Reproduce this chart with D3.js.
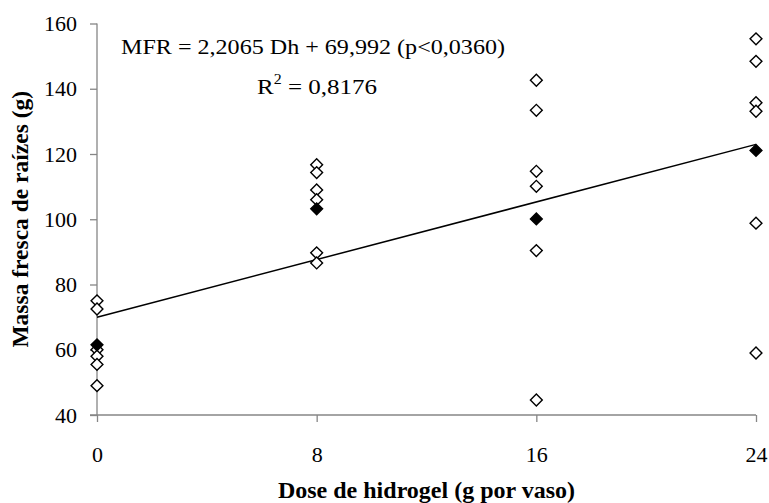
<!DOCTYPE html>
<html>
<head>
<meta charset="utf-8">
<script src="https://cdn.jsdelivr.net/npm/d3@7"></script>
<style>
  body { margin: 0; background: #fff; }
  text { font-family: "Liberation Serif", "Times New Roman", serif; }
</style>
</head>
<body>
<div id="chart"></div>
<script>
// doses (g por vaso)
const doses = [0, 8, 16, 24];
// individual observations per dose (open diamonds)
const obs0 = [75, 72.5, 60, 58, 55.5, 49];
const obs8 = [116.7, 114.3, 109, 106, 89.7, 86.6];
const obs16 = [142.6, 133.4, 114.7, 110.1, 90.4, 44.6];
const obs24 = [155.3, 148.4, 135.7, 133.1, 98.8, 59];
// means per dose (filled diamonds)
const means = [61.5, 103.2, 100.1, 121.1];
// regression MFR = 2,2065 Dh + 69,992
const slope = 2.2065, intercept = 69.992;
const yTicks = [40, 60, 80, 100, 120, 140, 160];

const W = 769, H = 503;
const margin = {top: 23.5, right: 13, bottom: 88, left: 97};
const width = W - margin.left - margin.right;
const height = H - margin.top - margin.bottom;

const svg = d3.select('#chart').append('svg')
  .attr('width', W)
  .attr('height', H);

const g = svg.append('g')
  .attr('transform', `translate(${margin.left}, ${margin.top})`);

const x = d3.scaleLinear().domain([0, 24]).range([0, width]);
const y = d3.scaleLinear().domain([40, 160]).range([height, 0]);

const axisColor = '#868686';

// y axis
const yAxis = d3.axisLeft(y).tickValues(yTicks).tickSize(7).tickPadding(13);
const gy = g.append('g').call(yAxis);
gy.select('.domain').attr('d', `M0,0V${height}`);

// x axis
const xAxis = d3.axisBottom(x).tickValues(doses).tickSize(7).tickPadding(24);
const gx = g.append('g').attr('transform', `translate(0, ${height})`).call(xAxis);
gx.select('.domain').attr('d', `M-7,0H${width}`);

[gx, gy].forEach(a => {
  a.selectAll('path, line').attr('stroke', axisColor).attr('stroke-width', 1.3);
  a.selectAll('text')
    .attr('fill', '#000')
    .style('font-size', '22px')
    .style('font-family', '"Liberation Serif", serif');
});

// regression line
g.append('path')
  .datum([0, 24])
  .attr('d', d3.line().x(d => x(d)).y(d => y(intercept + slope * d)))
  .attr('fill', 'none')
  .attr('stroke', '#000')
  .attr('stroke-width', 1.5);

const diamond = d3.symbol().type(d3.symbolSquare).size(70);

const allObs = [obs0, obs8, obs16, obs24];
const points = [];
allObs.forEach((arr, i) => arr.forEach(v => points.push({dose: doses[i], v})));

g.selectAll('.obs')
  .data(points)
  .enter().append('path')
  .attr('class', 'obs')
  .attr('d', diamond)
  .attr('transform', d => `translate(${x(d.dose)}, ${y(d.v)}) rotate(45)`)
  .attr('fill', '#fff')
  .attr('stroke', '#000')
  .attr('stroke-width', 1.4);

g.selectAll('.mean')
  .data(means)
  .enter().append('path')
  .attr('class', 'mean')
  .attr('d', diamond)
  .attr('transform', (d, i) => `translate(${x(doses[i])}, ${y(d)}) rotate(45)`)
  .attr('fill', '#000')
  .attr('stroke', '#000')
  .attr('stroke-width', 1.4);

// equation
svg.append('text')
  .attr('x', 121)
  .attr('y', 54)
  .attr('textLength', 384)
  .attr('lengthAdjust', 'spacingAndGlyphs')
  .style('font-size', '22px')
  .text('MFR = 2,2065 Dh + 69,992 (p<0,0360)');

const r2 = svg.append('text')
  .attr('x', 257)
  .attr('y', 94)
  .attr('textLength', 120)
  .attr('lengthAdjust', 'spacingAndGlyphs')
  .style('font-size', '22px');
r2.append('tspan').text('R');
r2.append('tspan').attr('dy', -10).style('font-size', '14px').text('2');
r2.append('tspan').attr('dy', 10).text(' = 0,8176');

// axis titles
svg.append('text')
  .attr('x', margin.left + width / 2)
  .attr('y', 498)
  .attr('text-anchor', 'middle')
  .style('font-size', '24px')
  .style('font-weight', 'bold')
  .text('Dose de hidrogel (g por vaso)');

svg.append('text')
  .attr('transform', `translate(28, ${margin.top + height / 2}) rotate(-90)`)
  .attr('text-anchor', 'middle')
  .style('font-size', '23.5px')
  .style('font-weight', 'bold')
  .text('Massa fresca de raízes (g)');
</script>
</body>
</html>
